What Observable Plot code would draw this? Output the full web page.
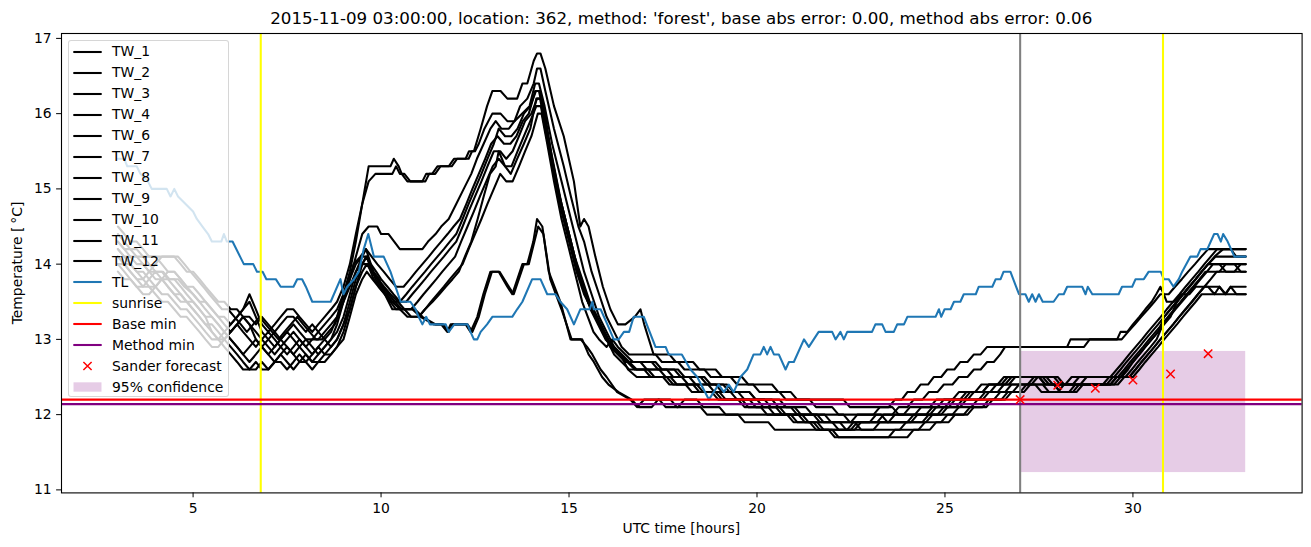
<!DOCTYPE html>
<html><head><meta charset="utf-8">
<script src="https://cdn.jsdelivr.net/npm/d3@7"></script>
<script src="https://cdn.jsdelivr.net/npm/@observablehq/plot@0.6"></script>
<style>
body{margin:0;background:white;font-family:"DejaVu Sans",sans-serif;color:black;}
#wrap{position:relative;width:1311px;height:547px;overflow:hidden;background:white;}
#title{position:absolute;left:61px;width:1240.6px;top:10px;text-align:center;font-size:16.7px;line-height:1;white-space:nowrap;}
#chart{position:absolute;left:0;top:26px;}
#xlabel{position:absolute;left:61px;width:1240.6px;top:522px;text-align:center;font-size:13.9px;line-height:1;white-space:nowrap;}
#ylabel{position:absolute;left:18px;top:263px;transform:translate(-50%,-50%) rotate(-90deg);font-size:13.9px;line-height:1;white-space:nowrap;}
#legend{position:absolute;left:68px;top:40px;width:161px;height:357px;background:rgba(255,255,255,0.8);border:1px solid rgba(204,204,204,0.8);border-radius:3px;box-sizing:border-box;}
.lrow{position:absolute;left:0;width:158px;height:16px;}
.lrow svg{position:absolute;left:4px;top:2px;}
.lrow span{position:absolute;left:43px;top:0;font-size:13.9px;line-height:16px;white-space:nowrap;}
</style></head>
<body>
<div id="wrap">
  <div id="title">2015-11-09 03:00:00, location: 362, method: 'forest', base abs error: 0.00, method abs error: 0.06</div>
  <div id="chart"></div>
  <div id="xlabel">UTC time [hours]</div>
  <div id="ylabel">Temperature [&#8201;°C]</div>
  <div id="legend"></div>
</div>
<script>
// ---------------- data ----------------
const xTicks = [5, 10, 15, 20, 25, 30];
const yTicks = [11, 12, 13, 14, 15, 16, 17];
const seriesNames = ["TW_1","TW_2","TW_3","TW_4","TW_6","TW_7","TW_8","TW_9","TW_10","TW_11","TW_12"];

const tw1 = [[3.0,14.3],[3.17,14.2],[3.5,14.2],[3.67,14.1],[4.5,14.1],[4.67,14.0],[4.83,13.9],[5.0,13.9],[5.17,13.8],[5.33,13.7],[5.5,13.6],[5.67,13.5],[5.83,13.5],[6.0,13.4],[6.17,13.4],[6.33,13.3],[6.5,13.3],[6.67,13.2],[6.83,13.3],[7.0,13.2],[7.17,13.1],[7.33,13.2],[7.5,13.3],[7.67,13.3],[7.83,13.2],[8.0,13.1],[8.17,13.2],[8.33,13.1],[8.5,13.0],[8.67,13.1],[8.83,13.3],[9.0,13.6],[9.17,13.9],[9.33,14.3],[9.5,14.8],[9.67,15.3],[10.25,15.3],[10.34,15.4],[10.47,15.3],[10.55,15.2],[10.7,15.1],[11.1,15.1],[11.2,15.2],[11.36,15.2],[11.5,15.3],[11.8,15.3],[11.94,15.4],[12.25,15.4],[12.34,15.5],[12.47,15.5],[12.65,15.8],[12.82,16.1],[12.96,16.3],[13.18,16.3],[13.36,16.2],[13.62,16.2],[13.76,16.4],[13.89,16.4],[14.06,16.7],[14.15,16.8],[14.24,16.8],[14.37,16.6],[14.6,16.1],[14.86,15.7],[15.13,15.1],[15.3,14.5],[15.4,14.6],[15.52,14.5],[15.7,14.1],[15.9,13.7],[16.1,13.4],[16.3,13.2],[16.5,13.2],[16.75,13.3],[16.9,13.4],[17.0,13.2],[17.25,12.8],[17.67,12.8],[17.84,12.7],[18.3,12.7],[18.47,12.6],[18.9,12.6],[19.07,12.5],[19.6,12.5],[19.77,12.4],[20.4,12.4],[20.57,12.3],[20.9,12.3],[21.07,12.2],[22.3,12.2],[22.47,12.1],[23.6,12.1],[23.77,12.0],[24.5,12.0],[24.67,12.1],[25.0,12.1],[25.17,12.2],[25.5,12.2],[25.67,12.3],[26.0,12.3],[26.17,12.4],[26.5,12.4],[26.67,12.5],[27.5,12.5],[27.67,12.4],[28.2,12.4],[28.37,12.5],[29.4,12.5],[29.57,12.6],[29.74,12.7],[29.9,12.8],[30.07,12.9],[30.24,13.0],[30.4,13.1],[30.57,13.2],[30.74,13.3],[30.9,13.4],[31.07,13.5],[31.24,13.6],[31.4,13.7],[31.57,13.8],[31.74,13.9],[31.9,14.0],[32.07,14.1],[32.24,14.2],[33.0,14.2]];
const tw2 = [[3.0,14.5],[3.17,14.4],[3.33,14.3],[3.5,14.3],[3.67,14.2],[3.83,14.1],[4.0,14.1],[4.17,14.0],[4.33,13.9],[4.5,13.9],[4.67,13.8],[4.83,13.7],[5.0,13.7],[5.17,13.6],[5.33,13.5],[5.5,13.4],[5.67,13.3],[5.83,13.3],[6.0,13.2],[6.17,13.3],[6.33,13.4],[6.5,13.6],[6.67,13.4],[6.83,13.2],[7.0,13.1],[7.17,13.2],[7.33,13.3],[7.5,13.4],[7.67,13.4],[7.83,13.3],[8.0,13.2],[8.17,13.1],[8.33,13.2],[8.5,13.3],[8.67,13.4],[8.83,13.5],[9.0,13.7],[9.17,14.0],[9.33,14.4],[9.5,14.8],[9.67,15.1],[9.85,15.2],[10.3,15.2],[10.4,15.3],[10.5,15.2],[10.62,15.2],[10.78,15.1],[11.18,15.1],[11.28,15.2],[11.44,15.2],[11.58,15.3],[11.88,15.3],[12.02,15.4],[12.33,15.4],[12.42,15.5],[12.5,15.5],[12.6,15.6],[12.75,15.8],[12.96,16.0],[13.18,16.0],[13.36,15.9],[13.55,15.9],[13.7,16.1],[13.89,16.2],[14.06,16.4],[14.15,16.6],[14.24,16.6],[14.37,16.3],[14.6,15.8],[14.86,15.3],[15.05,14.9],[15.25,14.5],[15.4,14.3],[15.6,13.9],[15.8,13.6],[16.0,13.3],[16.2,13.1],[16.4,12.9],[16.6,12.8],[17.3,12.8],[17.47,12.7],[17.9,12.7],[18.07,12.6],[18.6,12.6],[18.77,12.5],[19.3,12.5],[19.47,12.4],[19.9,12.4],[20.07,12.3],[20.6,12.3],[20.77,12.2],[21.4,12.2],[21.57,12.1],[22.0,12.1],[22.17,12.0],[23.3,12.0],[23.47,11.9],[24.1,11.9],[24.27,12.0],[24.6,12.0],[24.77,12.1],[25.1,12.1],[25.27,12.2],[25.6,12.2],[25.77,12.3],[26.2,12.3],[26.37,12.4],[26.7,12.4],[26.87,12.5],[27.6,12.5],[27.77,12.4],[28.4,12.4],[28.57,12.5],[29.7,12.5],[29.87,12.6],[30.0,12.7],[30.17,12.8],[30.33,12.9],[30.5,13.0],[30.67,13.1],[30.83,13.3],[31.0,13.4],[31.17,13.5],[31.33,13.6],[31.5,13.7],[31.67,13.8],[31.83,13.9],[32.0,14.0],[32.17,14.1],[32.4,14.2],[32.6,14.2],[32.75,14.1],[33.0,14.1]];
const tw3 = [[3.0,14.2],[3.17,14.1],[3.5,14.1],[3.67,14.0],[3.83,13.9],[4.2,13.9],[4.37,13.8],[4.6,13.8],[4.77,13.7],[5.0,13.6],[5.17,13.5],[5.33,13.5],[5.5,13.4],[5.67,13.3],[5.83,13.2],[6.0,13.1],[6.17,13.2],[6.33,13.3],[6.5,13.2],[6.67,13.0],[6.83,12.9],[7.0,13.0],[7.17,13.1],[7.33,13.0],[7.5,12.9],[7.67,12.8],[7.83,12.9],[8.0,13.0],[8.17,12.9],[8.33,12.8],[8.5,12.9],[8.67,13.0],[8.83,13.2],[9.0,13.5],[9.17,13.8],[9.33,14.1],[9.5,14.4],[9.67,14.5],[9.9,14.5],[10.0,14.4],[10.2,14.4],[10.35,14.3],[10.5,14.2],[11.1,14.2],[11.25,14.3],[11.45,14.4],[11.6,14.5],[11.8,14.6],[12.0,14.8],[12.2,15.0],[12.4,15.2],[12.55,15.4],[12.73,15.6],[12.91,15.8],[13.05,15.9],[13.2,15.8],[13.4,15.8],[13.55,15.9],[13.75,16.0],[13.95,16.1],[14.1,16.4],[14.2,16.4],[14.35,16.1],[14.55,15.6],[14.8,15.1],[15.0,14.7],[15.2,14.3],[15.4,13.9],[15.6,13.6],[15.8,13.3],[16.0,13.1],[16.2,12.9],[16.4,12.8],[16.6,12.7],[17.2,12.7],[17.37,12.6],[17.9,12.6],[18.07,12.5],[18.5,12.5],[18.67,12.4],[19.1,12.4],[19.27,12.3],[19.8,12.3],[19.97,12.2],[20.6,12.2],[20.77,12.1],[21.3,12.1],[21.47,12.0],[22.3,12.0],[22.47,11.9],[24.4,11.9],[24.57,12.0],[24.9,12.0],[25.07,12.1],[25.4,12.1],[25.57,12.2],[26.0,12.2],[26.17,12.3],[26.6,12.3],[26.77,12.4],[27.9,12.4],[28.07,12.3],[28.4,12.3],[28.57,12.4],[29.5,12.4],[29.67,12.5],[29.83,12.6],[30.0,12.7],[30.17,12.8],[30.33,12.9],[30.5,13.0],[30.67,13.1],[30.83,13.2],[31.0,13.3],[31.17,13.5],[31.33,13.6],[31.5,13.7],[31.67,13.8],[31.83,13.9],[32.0,14.0],[32.2,14.1],[33.0,14.1]];
const tw4 = [[3.0,14.0],[3.17,14.0],[3.33,13.9],[3.5,13.8],[3.67,13.8],[3.83,13.9],[4.0,14.0],[4.17,14.1],[4.6,14.1],[4.77,14.0],[4.93,13.9],[5.1,13.8],[5.27,13.7],[5.43,13.6],[5.6,13.5],[5.77,13.4],[5.93,13.4],[6.1,13.3],[6.27,13.2],[6.43,13.1],[6.6,13.2],[6.77,13.3],[6.93,13.2],[7.1,13.1],[7.27,13.0],[7.43,13.1],[7.6,13.2],[7.77,13.3],[7.93,13.2],[8.1,13.1],[8.27,13.0],[8.43,13.0],[8.6,13.1],[8.77,13.2],[8.93,13.4],[9.1,13.7],[9.27,14.0],[9.45,14.1],[9.6,14.2],[9.75,14.1],[9.9,14.0],[10.07,13.9],[10.23,13.8],[10.4,13.7],[10.6,13.7],[10.77,13.8],[10.93,13.9],[11.1,14.0],[11.27,14.1],[11.43,14.2],[11.6,14.3],[11.77,14.4],[11.93,14.5],[12.1,14.6],[12.27,14.8],[12.43,15.0],[12.6,15.2],[12.77,15.4],[12.93,15.6],[13.1,15.7],[13.27,15.6],[13.44,15.6],[13.6,15.7],[13.77,15.9],[13.93,16.0],[14.1,16.3],[14.2,16.3],[14.33,16.0],[14.5,15.5],[14.7,15.0],[14.9,14.6],[15.1,14.2],[15.3,13.8],[15.5,13.5],[15.7,13.3],[15.9,13.1],[16.1,12.9],[16.3,12.8],[16.5,12.7],[16.9,12.7],[17.07,12.6],[17.6,12.6],[17.77,12.5],[18.2,12.5],[18.37,12.4],[18.9,12.4],[19.07,12.3],[19.5,12.3],[19.67,12.2],[20.2,12.2],[20.37,12.1],[20.9,12.1],[21.07,12.0],[21.6,12.0],[21.77,11.9],[22.2,11.9],[22.37,11.8],[23.8,11.8],[23.97,11.9],[24.5,11.9],[24.67,12.0],[25.2,12.0],[25.37,12.1],[25.7,12.1],[25.87,12.2],[26.3,12.2],[26.47,12.3],[26.8,12.3],[26.97,12.4],[27.3,12.4],[27.47,12.5],[28.0,12.5],[28.17,12.4],[29.3,12.4],[29.47,12.5],[29.8,12.5],[29.97,12.6],[30.13,12.7],[30.3,12.8],[30.47,12.9],[30.63,13.0],[30.8,13.2],[30.97,13.3],[31.13,13.4],[31.3,13.5],[31.47,13.6],[31.63,13.7],[31.8,13.8],[31.97,13.9],[32.13,14.0],[33.0,14.0]];
const tw6 = [[3.0,14.1],[3.17,14.0],[3.33,14.0],[3.5,13.9],[3.67,13.8],[3.83,13.7],[4.0,13.7],[4.17,13.8],[4.33,13.9],[4.5,13.9],[4.67,13.8],[4.83,13.7],[5.0,13.6],[5.17,13.5],[5.33,13.4],[5.5,13.3],[5.67,13.2],[5.83,13.1],[6.0,13.0],[6.17,12.9],[6.33,12.8],[6.5,12.9],[6.67,13.0],[6.83,12.9],[7.0,12.8],[7.17,12.9],[7.33,13.0],[7.5,13.1],[7.67,13.0],[7.83,12.9],[8.0,12.8],[8.17,12.7],[8.33,12.8],[8.5,12.9],[8.67,13.0],[8.83,13.1],[9.0,13.3],[9.17,13.6],[9.33,13.9],[9.5,14.1],[9.6,14.2],[9.73,14.0],[9.87,13.9],[10.0,13.8],[10.17,13.7],[10.33,13.6],[10.5,13.5],[10.67,13.5],[10.83,13.6],[11.0,13.7],[11.17,13.8],[11.33,13.9],[11.5,14.0],[11.67,14.1],[11.83,14.2],[12.0,14.3],[12.17,14.5],[12.33,14.7],[12.5,14.9],[12.67,15.1],[12.83,15.3],[13.0,15.5],[13.17,15.5],[13.33,15.4],[13.5,15.5],[13.67,15.7],[13.83,15.9],[14.0,16.0],[14.15,16.2],[14.25,16.2],[14.4,15.8],[14.6,15.3],[14.8,14.8],[15.0,14.4],[15.2,14.0],[15.4,13.7],[15.6,13.4],[15.8,13.2],[16.0,13.0],[16.2,12.9],[16.4,12.8],[16.6,12.7],[16.8,12.6],[17.4,12.6],[17.57,12.5],[18.0,12.5],[18.17,12.4],[18.7,12.4],[18.87,12.3],[19.3,12.3],[19.47,12.2],[20.0,12.2],[20.17,12.1],[20.6,12.1],[20.77,12.0],[21.2,12.0],[21.37,11.9],[22.0,11.9],[22.17,11.8],[22.6,11.8],[22.77,11.9],[23.5,11.9],[23.67,12.0],[24.2,12.0],[24.37,12.1],[24.8,12.1],[24.97,12.2],[25.4,12.2],[25.57,12.3],[26.0,12.3],[26.17,12.4],[26.6,12.4],[26.77,12.5],[27.9,12.5],[28.07,12.4],[28.6,12.4],[28.77,12.5],[29.5,12.5],[29.67,12.6],[29.83,12.7],[30.0,12.8],[30.17,12.9],[30.33,13.0],[30.5,13.1],[30.67,13.2],[30.83,13.3],[31.0,13.4],[31.17,13.5],[31.33,13.6],[31.5,13.7],[31.67,13.8],[31.83,13.9],[32.0,14.0],[32.3,14.0],[32.47,13.9],[32.7,13.9],[32.87,14.0],[33.0,14.0]];
const tw7 = [[3.0,13.9],[3.17,13.8],[3.33,13.8],[3.5,13.7],[3.67,13.6],[3.83,13.6],[4.0,13.7],[4.17,13.8],[4.33,13.8],[4.5,13.7],[4.67,13.6],[4.83,13.5],[5.0,13.5],[5.17,13.4],[5.33,13.3],[5.5,13.3],[5.67,13.2],[5.83,13.1],[6.0,13.0],[6.17,12.9],[6.33,12.8],[6.5,12.7],[6.67,12.8],[6.83,12.9],[7.0,12.8],[7.17,12.7],[7.33,12.8],[7.5,12.9],[7.67,12.8],[7.83,12.7],[8.0,12.7],[8.17,12.8],[8.33,12.9],[8.5,12.8],[8.67,12.9],[8.83,13.0],[9.0,13.2],[9.17,13.5],[9.33,13.8],[9.5,14.0],[9.62,14.1],[9.75,13.9],[9.9,13.8],[10.05,13.7],[10.2,13.6],[10.37,13.5],[10.55,13.4],[10.8,13.4],[10.97,13.5],[11.13,13.6],[11.3,13.7],[11.47,13.8],[11.63,13.9],[11.8,14.0],[11.97,14.1],[12.13,14.3],[12.3,14.5],[12.47,14.7],[12.63,14.9],[12.8,15.1],[12.97,15.3],[13.13,15.4],[13.3,15.3],[13.47,15.3],[13.63,15.5],[13.8,15.7],[13.97,15.9],[14.13,16.1],[14.25,16.1],[14.4,15.7],[14.6,15.2],[14.8,14.7],[15.0,14.3],[15.2,13.9],[15.4,13.6],[15.6,13.4],[15.8,13.2],[16.0,13.0],[16.2,12.8],[16.4,12.7],[16.6,12.6],[17.0,12.6],[17.17,12.5],[17.6,12.5],[17.77,12.4],[18.3,12.4],[18.47,12.3],[18.9,12.3],[19.07,12.2],[19.6,12.2],[19.77,12.1],[20.3,12.1],[20.47,12.0],[20.8,12.0],[20.97,11.9],[21.5,11.9],[21.67,11.8],[22.0,11.8],[22.17,11.7],[23.5,11.7],[23.67,11.8],[24.3,11.8],[24.47,11.9],[24.9,11.9],[25.07,12.0],[25.5,12.0],[25.67,12.1],[26.0,12.1],[26.17,12.2],[26.5,12.2],[26.67,12.3],[27.0,12.3],[27.17,12.4],[27.4,12.4],[27.57,12.3],[28.0,12.3],[28.17,12.4],[29.4,12.4],[29.57,12.5],[29.9,12.5],[30.07,12.6],[30.23,12.7],[30.4,12.8],[30.57,12.9],[30.73,13.0],[30.9,13.1],[31.07,13.2],[31.23,13.3],[31.4,13.4],[31.57,13.5],[31.73,13.6],[31.9,13.7],[32.07,13.8],[32.23,13.9],[33.0,13.9]];
const tw8 = [[3.0,14.3],[3.17,14.2],[3.33,14.1],[3.5,14.0],[3.67,14.0],[3.83,13.9],[4.0,13.8],[4.17,13.8],[4.33,13.7],[4.5,13.6],[4.67,13.6],[4.83,13.5],[5.0,13.4],[5.17,13.3],[5.33,13.2],[5.5,13.2],[5.67,13.1],[5.83,13.0],[6.0,12.9],[6.17,12.8],[6.33,12.7],[6.5,12.6],[6.67,12.6],[6.83,12.7],[7.0,12.6],[7.17,12.7],[7.33,12.8],[7.5,12.7],[7.67,12.6],[7.83,12.7],[8.0,12.8],[8.17,12.7],[8.33,12.7],[8.5,12.8],[8.67,12.8],[8.83,12.9],[9.0,13.1],[9.17,13.4],[9.33,13.7],[9.5,13.9],[9.62,14.0],[9.75,13.9],[9.92,13.8],[10.08,13.7],[10.25,13.6],[10.45,13.5],[10.62,13.4],[10.8,13.3],[11.0,13.3],[11.17,13.4],[11.33,13.5],[11.5,13.6],[11.67,13.7],[11.83,13.8],[12.0,13.9],[12.17,14.0],[12.33,14.2],[12.5,14.4],[12.67,14.6],[12.83,14.8],[13.0,15.0],[13.17,15.2],[13.33,15.1],[13.5,15.1],[13.67,15.3],[13.83,15.5],[14.0,15.7],[14.17,16.0],[14.27,16.0],[14.42,15.6],[14.6,15.1],[14.8,14.6],[15.0,14.2],[15.2,13.8],[15.35,13.5],[15.5,13.3],[15.65,13.1],[15.8,13.0],[16.0,12.9],[16.15,13.0],[16.3,12.9],[16.5,12.8],[16.7,12.7],[17.3,12.7],[17.47,12.6],[17.8,12.6],[17.97,12.5],[18.6,12.5],[18.77,12.4],[19.2,12.4],[19.37,12.3],[19.8,12.3],[19.97,12.2],[20.4,12.2],[20.57,12.1],[21.0,12.1],[21.17,12.0],[21.8,12.0],[21.97,11.9],[22.6,11.9],[22.77,11.8],[23.1,11.8],[23.27,11.9],[24.0,11.9],[24.17,12.0],[24.8,12.0],[24.97,12.1],[25.3,12.1],[25.47,12.2],[25.9,12.2],[26.07,12.3],[26.4,12.3],[26.57,12.4],[27.2,12.4],[27.37,12.5],[27.7,12.5],[27.87,12.4],[29.2,12.4],[29.37,12.5],[29.6,12.5],[29.77,12.6],[29.93,12.7],[30.1,12.8],[30.27,12.9],[30.43,13.0],[30.6,13.1],[30.77,13.2],[30.93,13.3],[31.1,13.4],[31.27,13.5],[31.43,13.6],[31.6,13.7],[31.77,13.8],[31.93,13.9],[32.3,13.9],[32.47,14.0],[32.7,14.0],[32.87,13.9],[33.0,13.9]];
const tw9 = [[3.0,14.4],[3.17,14.3],[3.33,14.2],[3.5,14.1],[3.67,14.1],[3.83,14.0],[4.0,13.9],[4.17,13.9],[4.33,13.8],[4.5,13.8],[4.67,13.7],[4.83,13.6],[5.0,13.5],[5.17,13.4],[5.33,13.3],[5.5,13.1],[5.67,13.0],[5.83,13.0],[6.0,13.1],[6.17,13.2],[6.33,13.1],[6.5,13.0],[6.67,12.9],[6.83,13.0],[7.0,13.1],[7.17,13.0],[7.33,12.9],[7.5,12.8],[7.67,12.9],[7.83,13.0],[8.0,12.9],[8.17,12.8],[8.33,12.9],[8.5,13.0],[8.67,12.9],[8.83,13.0],[9.0,13.2],[9.17,13.4],[9.33,13.7],[9.5,14.0],[9.6,14.1],[9.72,14.0],[9.85,13.8],[10.0,13.7],[10.15,13.6],[10.3,13.5],[10.5,13.5],[10.67,13.6],[10.83,13.7],[11.0,13.8],[11.17,13.9],[11.33,14.0],[11.5,14.1],[11.67,14.2],[11.83,14.3],[12.0,14.4],[12.17,14.6],[12.33,14.8],[12.5,15.0],[12.67,15.2],[12.83,15.4],[13.0,15.6],[13.13,15.8],[13.3,15.7],[13.47,15.7],[13.63,15.8],[13.8,16.0],[13.97,16.1],[14.12,16.3],[14.22,16.3],[14.36,16.0],[14.55,15.4],[14.75,14.9],[14.95,14.5],[15.15,14.1],[15.35,13.8],[15.55,13.5],[15.75,13.3],[15.95,13.1],[16.15,12.9],[16.35,12.8],[16.55,12.7],[16.75,12.6],[17.1,12.6],[17.27,12.5],[17.7,12.5],[17.87,12.4],[18.4,12.4],[18.57,12.3],[19.0,12.3],[19.17,12.2],[19.8,12.2],[19.97,12.1],[20.5,12.1],[20.67,12.0],[21.1,12.0],[21.27,11.9],[21.6,11.9],[21.77,11.8],[22.4,11.8],[22.57,11.9],[23.2,11.9],[23.37,12.0],[23.9,12.0],[24.07,12.1],[24.6,12.1],[24.77,12.2],[25.2,12.2],[25.37,12.3],[25.8,12.3],[25.97,12.4],[26.4,12.4],[26.57,12.5],[27.5,12.5],[27.67,12.4],[27.9,12.4],[28.07,12.3],[28.5,12.3],[28.67,12.4],[29.4,12.4],[29.57,12.5],[29.9,12.5],[30.07,12.6],[30.23,12.7],[30.4,12.8],[30.57,12.9],[30.73,13.0],[30.9,13.1],[31.07,13.2],[31.23,13.3],[31.4,13.4],[31.57,13.5],[31.73,13.6],[31.9,13.7],[32.3,13.7],[32.47,13.6],[32.6,13.7],[33.0,13.7]];
const tw10 = [[3.0,14.0],[3.17,13.9],[3.33,13.8],[3.5,13.7],[3.67,13.7],[3.83,13.8],[4.0,13.9],[4.17,13.8],[4.33,13.7],[4.5,13.6],[4.67,13.5],[4.83,13.5],[5.0,13.4],[5.17,13.3],[5.33,13.2],[5.5,13.1],[5.67,13.0],[5.83,12.9],[6.0,12.8],[6.17,12.7],[6.33,12.6],[6.5,12.6],[6.67,12.7],[6.83,12.6],[7.0,12.6],[7.17,12.7],[7.33,12.7],[7.5,12.6],[7.67,12.7],[7.83,12.8],[8.0,12.7],[8.17,12.6],[8.33,12.7],[8.5,12.7],[8.67,12.8],[8.83,12.9],[9.0,13.0],[9.17,13.3],[9.33,13.6],[9.5,13.8],[9.62,13.9],[9.77,13.8],[9.93,13.7],[10.1,13.6],[10.3,13.5],[10.5,13.4],[10.7,13.3],[11.0,13.3],[11.17,13.4],[11.37,13.5],[11.55,13.6],[11.72,13.7],[11.9,13.8],[12.07,13.9],[12.23,14.1],[12.4,14.3],[12.57,14.6],[12.73,14.9],[12.9,15.2],[13.05,15.3],[13.13,15.5],[13.3,15.3],[13.45,15.2],[13.62,15.4],[13.8,15.6],[13.97,15.8],[14.13,16.2],[14.23,16.2],[14.38,15.8],[14.57,15.3],[14.77,14.8],[14.97,14.4],[15.17,14.0],[15.37,13.7],[15.57,13.4],[15.77,13.2],[15.97,13.0],[16.17,12.9],[16.37,12.8],[16.57,12.6],[16.8,12.5],[17.5,12.5],[17.67,12.4],[18.1,12.4],[18.27,12.3],[18.8,12.3],[18.97,12.2],[19.5,12.2],[19.67,12.1],[20.1,12.1],[20.27,12.0],[20.9,12.0],[21.07,11.9],[21.4,11.9],[21.57,11.8],[21.9,11.8],[22.07,11.7],[24.0,11.7],[24.17,11.8],[24.6,11.8],[24.77,11.9],[25.1,11.9],[25.27,12.0],[25.6,12.0],[25.77,12.1],[26.1,12.1],[26.27,12.2],[26.6,12.2],[26.77,12.3],[27.1,12.3],[27.27,12.4],[27.6,12.4],[27.77,12.3],[28.3,12.3],[28.47,12.4],[29.6,12.4],[29.77,12.5],[30.0,12.5],[30.17,12.6],[30.33,12.7],[30.5,12.8],[30.67,12.9],[30.83,13.0],[31.0,13.1],[31.17,13.2],[31.33,13.3],[31.5,13.4],[31.67,13.5],[31.83,13.6],[33.0,13.6]];
const tw11 = [[3.0,14.2],[3.17,14.1],[3.33,14.0],[3.5,13.9],[3.67,13.9],[3.83,13.8],[4.0,13.7],[4.17,13.6],[4.33,13.6],[4.5,13.5],[4.67,13.4],[4.83,13.4],[5.0,13.3],[5.17,13.2],[5.33,13.1],[5.5,13.0],[5.67,13.0],[5.83,13.1],[6.0,13.2],[6.17,13.3],[6.33,13.4],[6.5,13.5],[6.67,13.3],[6.83,13.1],[7.0,13.0],[7.17,12.9],[7.33,13.0],[7.5,13.1],[7.67,13.2],[7.83,13.1],[8.0,13.0],[8.17,13.0],[8.33,13.1],[8.5,13.2],[8.67,13.3],[8.83,13.4],[9.0,13.6],[9.17,13.8],[9.33,14.0],[9.5,14.1],[9.63,14.1],[9.8,13.9],[9.95,13.8],[10.1,13.6],[10.3,13.4],[10.83,13.4],[11.05,13.3],[11.4,13.2],[11.6,13.2],[11.76,13.1],[11.85,13.2],[12.25,13.2],[12.38,13.1],[12.56,13.3],[12.72,13.6],[12.91,13.9],[13.13,13.9],[13.36,13.7],[13.49,13.6],[13.76,14.0],[13.89,14.0],[14.05,14.3],[14.15,14.6],[14.29,14.5],[14.46,13.9],[14.77,13.5],[15.04,13.0],[15.31,13.0],[15.48,12.9],[15.62,12.8],[15.84,12.6],[16.0,12.5],[16.28,12.3],[16.63,12.2],[16.81,12.1],[17.0,12.2],[17.4,12.2],[17.57,12.1],[17.9,12.1],[18.07,12.2],[18.4,12.2],[18.57,12.1],[19.0,12.1],[19.17,12.0],[21.5,12.0],[21.67,11.9],[22.5,11.9],[22.67,12.0],[23.1,12.0],[23.27,12.1],[23.5,12.1],[23.67,12.2],[23.85,12.2],[24.0,12.3],[24.2,12.3],[24.35,12.4],[24.55,12.4],[24.7,12.5],[24.9,12.5],[25.06,12.6],[25.25,12.6],[25.41,12.7],[25.6,12.7],[25.77,12.8],[25.95,12.8],[26.12,12.9],[28.25,12.9],[28.34,13.0],[29.58,13.0],[29.67,13.1],[29.85,13.1],[30.0,13.2],[30.17,13.3],[30.33,13.4],[30.5,13.5],[30.62,13.6],[30.73,13.7],[30.82,13.6],[30.9,13.5],[31.1,13.5],[31.27,13.6],[31.5,13.6],[31.67,13.7],[32.0,13.7],[32.17,13.6],[32.3,13.7],[32.45,13.6],[32.6,13.7],[32.75,13.6],[33.0,13.6]];
const tw12 = [[3.0,14.1],[3.17,14.0],[3.33,13.9],[3.5,13.8],[3.67,13.7],[3.83,13.7],[4.0,13.6],[4.17,13.5],[4.33,13.5],[4.5,13.4],[4.67,13.3],[4.83,13.3],[5.0,13.2],[5.17,13.1],[5.33,13.0],[5.5,12.9],[5.67,12.9],[5.83,13.0],[6.0,13.1],[6.17,13.2],[6.33,13.3],[6.5,13.2],[6.67,13.1],[6.83,13.0],[7.0,12.9],[7.17,12.8],[7.33,12.9],[7.5,13.0],[7.67,13.1],[7.83,13.0],[8.0,12.9],[8.17,13.0],[8.33,13.0],[8.5,13.1],[8.67,13.2],[8.83,13.3],[9.0,13.5],[9.17,13.7],[9.33,13.9],[9.5,14.0],[9.65,14.0],[9.8,13.8],[9.95,13.7],[10.1,13.6],[10.25,13.5],[10.4,13.4],[10.9,13.4],[11.1,13.3],[11.45,13.2],[11.65,13.2],[11.8,13.1],[11.9,13.2],[12.3,13.2],[12.43,13.1],[12.6,13.3],[12.76,13.6],[12.95,13.9],[13.15,13.9],[13.4,13.7],[13.53,13.6],[13.8,14.0],[13.93,14.0],[14.08,14.3],[14.18,14.5],[14.32,14.4],[14.5,13.8],[14.8,13.4],[15.07,13.0],[15.35,13.0],[15.52,12.8],[15.66,12.7],[15.88,12.5],[16.05,12.4],[16.32,12.3],[16.67,12.2],[16.85,12.1],[17.2,12.1],[17.37,12.2],[17.7,12.2],[17.87,12.1],[18.5,12.1],[18.67,12.0],[19.5,12.0],[19.67,11.9],[20.3,11.9],[20.47,11.8],[22.5,11.8],[22.67,11.9],[23.0,11.9],[23.17,12.0],[23.6,12.0],[23.77,12.1],[24.0,12.1],[24.17,12.2],[24.4,12.2],[24.57,12.3],[24.8,12.3],[24.97,12.4],[25.2,12.4],[25.37,12.5],[25.6,12.5],[25.77,12.6],[25.95,12.6],[26.12,12.7],[26.3,12.7],[26.47,12.8],[26.6,12.9],[28.7,12.9],[28.85,13.0],[29.7,13.0],[29.87,13.1],[30.05,13.2],[30.22,13.3],[30.4,13.4],[30.57,13.5],[30.73,13.6],[30.95,13.6],[31.12,13.7],[31.3,13.8],[31.47,13.9],[31.65,14.0],[31.82,14.1],[32.0,14.2],[33.0,14.2]];

const tl = [[3.0,15.4],[3.17,15.4],[3.25,15.3],[3.5,15.3],[3.6,15.2],[3.8,15.1],[3.9,15.0],[4.3,15.0],[4.4,14.9],[4.5,15.0],[4.6,14.9],[4.8,14.8],[5.0,14.7],[5.1,14.6],[5.25,14.5],[5.4,14.4],[5.5,14.3],[5.75,14.3],[5.82,14.4],[5.9,14.3],[6.05,14.3],[6.25,14.1],[6.35,14.0],[6.6,14.0],[6.7,13.9],[6.85,13.9],[6.95,13.8],[7.2,13.8],[7.33,13.7],[7.67,13.7],[7.77,13.8],[7.9,13.8],[8.0,13.7],[8.17,13.5],[8.66,13.5],[8.92,13.8],[9.0,13.6],[9.1,13.7],[9.28,13.8],[9.41,13.9],[9.54,14.2],[9.66,14.4],[9.81,14.1],[10.07,14.1],[10.25,13.9],[10.52,13.5],[10.78,13.5],[10.92,13.4],[11.0,13.3],[11.1,13.2],[11.2,13.3],[11.3,13.2],[11.72,13.2],[11.8,13.1],[11.95,13.2],[12.3,13.2],[12.38,13.1],[12.47,13.0],[12.56,13.0],[12.65,13.1],[12.82,13.2],[12.96,13.3],[13.49,13.3],[13.62,13.4],[13.76,13.5],[14.02,13.8],[14.24,13.8],[14.42,13.6],[14.64,13.6],[14.77,13.5],[14.95,13.4],[15.13,13.2],[15.3,13.4],[15.55,13.4],[15.62,13.5],[15.66,13.4],[15.84,13.4],[16.02,13.2],[16.19,13.0],[16.32,13.0],[16.46,13.1],[16.6,13.1],[16.72,13.3],[16.99,13.3],[17.3,12.9],[17.57,12.9],[17.65,12.8],[18.0,12.8],[18.23,12.6],[18.41,12.5],[18.72,12.2],[18.98,12.4],[19.12,12.3],[19.25,12.4],[19.38,12.3],[19.56,12.5],[19.74,12.6],[19.91,12.8],[20.09,12.8],[20.18,12.9],[20.27,12.8],[20.36,12.9],[20.45,12.8],[20.58,12.8],[20.76,12.6],[20.85,12.7],[20.98,12.7],[21.25,13.0],[21.38,12.9],[21.51,13.0],[21.64,13.1],[22.0,13.1],[22.09,13.0],[22.22,13.1],[22.31,13.0],[22.4,13.1],[23.06,13.1],[23.15,13.2],[23.33,13.2],[23.42,13.1],[23.64,13.1],[23.73,13.2],[23.91,13.2],[24.0,13.3],[24.75,13.3],[24.84,13.4],[24.9,13.3],[24.99,13.4],[25.15,13.4],[25.24,13.5],[25.41,13.5],[25.5,13.6],[25.82,13.6],[25.9,13.7],[26.26,13.7],[26.35,13.8],[26.48,13.8],[26.56,13.9],[26.74,13.9],[26.97,13.6],[27.14,13.6],[27.23,13.5],[27.32,13.6],[27.41,13.5],[27.5,13.6],[27.6,13.5],[27.89,13.5],[28.03,13.6],[28.16,13.6],[28.25,13.7],[28.65,13.7],[28.74,13.6],[28.8,13.7],[28.92,13.6],[29.62,13.6],[29.71,13.7],[29.98,13.7],[30.07,13.8],[30.29,13.8],[30.42,13.9],[30.74,13.9],[30.82,13.8],[30.95,13.8],[31.08,13.7],[31.22,13.8],[31.31,13.9],[31.53,14.1],[31.71,14.1],[31.8,14.2],[31.98,14.2],[32.16,14.4],[32.25,14.4],[32.34,14.3],[32.4,14.4],[32.52,14.3],[32.7,14.1],[33.0,14.1]];

const sunriseHours = [6.8, 30.8];
const forecastHour = [27];
const baseMin = [12.2];
const methodMin = [12.14];
const sanderHours = [27, 28, 29, 30, 31, 32];
const sanderValues = [12.2, 12.39, 12.35, 12.46, 12.54, 12.81];
const confHours = [27, 33];
const confBounds = [11.23, 12.84];

const legendLabels = ["TW_1","TW_2","TW_3","TW_4","TW_6","TW_7","TW_8","TW_9","TW_10","TW_11","TW_12","TL","sunrise","Base min","Method min","Sander forecast","95% confidence"];

// ---------------- build ----------------
const twSeries = [tw1, tw2, tw3, tw4, tw6, tw7, tw8, tw9, tw10, tw11, tw12];
const twRows = twSeries.flatMap((pts, i) => pts.map(([h, t]) => ({series: seriesNames[i], h, t})));
const tlRows = tl.map(([h, t]) => ({h, t}));
const sanderRows = sanderHours.map((h, i) => ({h, t: sanderValues[i]}));
const confRows = [{x1: confHours[0], x2: confHours[1], y1: confBounds[0], y2: confBounds[1]}];

const LW = 2.08;
const chart = Plot.plot({
  width: 1311, height: 521,
  marginLeft: 61, marginRight: 9.4, marginTop: 7, marginBottom: 54.6,
  style: {fontFamily: "DejaVu Sans", fontSize: "13.9px", color: "black", background: "white", overflow: "visible"},
  x: {domain: [1.5, 34.5]},
  y: {domain: [10.96, 17.065]},
  marks: [
    Plot.rect(confRows, {x1: "x1", x2: "x2", y1: "y1", y2: "y2", fill: "purple", fillOpacity: 0.2}),
    Plot.line(twRows, {x: "h", y: "t", z: "series", stroke: "black", strokeWidth: LW, strokeLinejoin: "round"}),
    Plot.line(tlRows, {x: "h", y: "t", stroke: "#1f77b4", strokeWidth: LW, strokeLinejoin: "round"}),
    Plot.ruleX(sunriseHours, {stroke: "yellow", strokeWidth: LW}),
    Plot.ruleX(forecastHour, {stroke: "grey", strokeWidth: LW}),
    Plot.ruleY(baseMin, {stroke: "red", strokeWidth: LW}),
    Plot.ruleY(methodMin, {stroke: "purple", strokeWidth: LW}),
    Plot.dot(sanderRows, {x: "h", y: "t", symbol: "times", r: 3.9, stroke: "red", strokeWidth: 1.5}),
    Plot.frame({stroke: "black", strokeWidth: 1.1}),
    Plot.axisX({ticks: xTicks, tickFormat: d => String(d), tickSize: 4.9, tickPadding: 5.5, label: null}),
    Plot.axisY({ticks: yTicks, tickFormat: d => String(d), tickSize: 4.9, tickPadding: 4.9, label: null})
  ]
});
document.getElementById("chart").appendChild(chart);

// legend
const legend = document.getElementById("legend");
const ns = "http://www.w3.org/2000/svg";
legendLabels.forEach((lab, i) => {
  const row = document.createElement("div");
  row.className = "lrow";
  const yc = 10.7 + 20.98 * i;
  row.style.top = (yc - 8.4) + "px";
  const svg = document.createElementNS(ns, "svg");
  svg.setAttribute("width", "30"); svg.setAttribute("height", "12");
  svg.style.top = (8.4 - 6) + "px";
  if (i <= 14) {
    const col = i < 11 ? "black" : ["#1f77b4", "yellow", "red", "purple"][i - 11];
    const el = document.createElementNS(ns, "line");
    el.setAttribute("x1", "0.3"); el.setAttribute("x2", "28.7");
    el.setAttribute("y1", "6"); el.setAttribute("y2", "6");
    el.setAttribute("stroke", col); el.setAttribute("stroke-width", LW);
    svg.appendChild(el);
  } else if (i === 15) {
    const p = document.createElementNS(ns, "path");
    p.setAttribute("d", "M10.4,2 L18.6,10 M10.4,10 L18.6,2");
    p.setAttribute("stroke", "red"); p.setAttribute("stroke-width", "1.5");
    svg.appendChild(p);
  } else {
    const r = document.createElementNS(ns, "rect");
    r.setAttribute("x", "0.5"); r.setAttribute("y", "1.3");
    r.setAttribute("width", "28"); r.setAttribute("height", "9.4");
    r.setAttribute("fill", "purple"); r.setAttribute("fill-opacity", "0.2");
    svg.appendChild(r);
  }
  row.appendChild(svg);
  const sp = document.createElement("span");
  sp.textContent = lab;
  row.appendChild(sp);
  legend.appendChild(row);
});
</script>
</body></html>
